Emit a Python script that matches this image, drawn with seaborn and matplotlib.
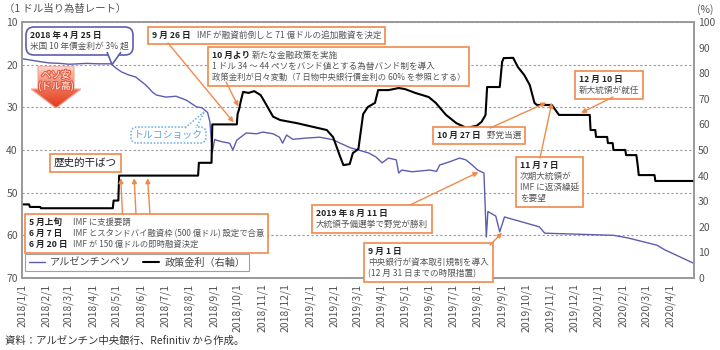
import matplotlib
matplotlib.use("Agg")
import matplotlib.pyplot as plt
import matplotlib.dates as mdates
import matplotlib.patheffects as pe
from matplotlib.offsetbox import TextArea, HPacker, VPacker, AnnotationBbox
from matplotlib.patches import Polygon
from matplotlib.transforms import IdentityTransform
from matplotlib.colors import LinearSegmentedColormap
import numpy as np
import pandas as pd
import seaborn as sns

# ---- data ----
# peso per dollar (left axis, inverted)
peso_dates = [
    "2018-01-01", "2018-01-11", "2018-01-24", "2018-02-05", "2018-02-18", "2018-03-02", "2018-03-24", "2018-04-08", "2018-04-24",
    "2018-04-30", "2018-05-07", "2018-05-16", "2018-05-25", "2018-06-07", "2018-06-15", "2018-06-20", "2018-07-02", "2018-07-15", "2018-07-28",
    "2018-08-10", "2018-08-17", "2018-08-24", "2018-08-27", "2018-08-29", "2018-08-30", "2018-09-02", "2018-09-04", "2018-09-12", "2018-09-21",
    "2018-09-25", "2018-09-30", "2018-10-12", "2018-10-25", "2018-11-02", "2018-11-15", "2018-11-23", "2018-11-27", "2018-12-02", "2018-12-10",
    "2018-12-27", "2019-01-13", "2019-01-30", "2019-02-08", "2019-02-21", "2019-03-03", "2019-03-16", "2019-03-25", "2019-04-02", "2019-04-10",
    "2019-04-20", "2019-04-23", "2019-04-27", "2019-05-10", "2019-06-01", "2019-06-10", "2019-06-14", "2019-06-26", "2019-07-09", "2019-07-17",
    "2019-07-25", "2019-08-01", "2019-08-09", "2019-08-12", "2019-08-14", "2019-08-24", "2019-08-29", "2019-09-04", "2019-09-27", "2019-10-18",
    "2019-10-25", "2019-11-30", "2020-01-20", "2020-02-07", "2020-03-15", "2020-03-25", "2020-04-08", "2020-04-30",
]
peso_vals = [
    18.6, 18.9, 19.3, 19.6, 19.7, 19.9, 19.7, 19.8, 19.8,
    20.8, 21.7, 22.4, 22.9, 24.8, 26.4, 27.1, 27.6, 27.4, 28.3,
    29.9, 30.1, 31.2, 33.4, 38.8, 40.5, 37.5, 37.7, 38.1, 38.4,
    40.0, 37.7, 36.0, 36.2, 35.8, 36.2, 37.0, 38.4, 36.5, 37.5,
    37.2, 37.0, 37.6, 38.4, 39.5, 40.0, 40.7, 41.6, 43.0, 41.9,
    42.3, 45.4, 44.7, 45.1, 44.7, 45.0, 43.5, 42.8, 41.9, 42.3,
    43.5, 44.7, 45.4, 60.4, 54.4, 55.5, 59.2, 55.7, 56.9, 58.0,
    59.5, 59.7, 60.0, 60.6, 62.3, 63.4, 64.6, 66.5,
]

# policy rate % (right axis)
rate_dates = [
    "2018-01-01", "2018-01-10", "2018-01-11", "2018-01-24", "2018-01-25", "2018-04-26", "2018-04-27", "2018-05-03", "2018-05-04",
    "2018-08-12", "2018-08-13", "2018-08-29", "2018-08-30", "2018-09-30", "2018-10-01", "2018-10-03", "2018-10-05", "2018-10-08",
    "2018-10-15", "2018-10-22", "2018-10-30", "2018-11-03", "2018-11-15", "2018-11-24", "2018-12-15", "2019-01-05", "2019-01-22",
    "2019-01-30", "2019-02-08", "2019-02-12", "2019-02-20", "2019-02-24", "2019-03-03", "2019-03-09", "2019-03-15", "2019-03-24",
    "2019-03-28", "2019-04-10", "2019-04-23", "2019-05-01", "2019-05-14", "2019-05-31", "2019-06-09", "2019-06-22", "2019-07-05",
    "2019-07-18", "2019-07-31", "2019-08-06", "2019-08-11", "2019-08-13", "2019-08-29", "2019-09-01", "2019-09-03", "2019-09-15",
    "2019-09-21", "2019-09-29", "2019-10-06", "2019-10-12", "2019-10-15", "2019-11-03", "2019-11-12", "2019-12-21", "2019-12-22",
    "2019-12-28", "2019-12-29", "2020-01-12", "2020-01-13", "2020-01-19", "2020-01-20", "2020-02-04", "2020-02-05", "2020-02-18",
    "2020-02-20", "2020-02-21", "2020-03-12", "2020-03-13", "2020-05-01",
]
rate_vals = [
    28.75, 28.75, 27.75, 27.75, 27.25, 27.25, 30.25, 30.25, 40.0,
    40.0, 45.0, 45.0, 60.0, 60.0, 64.0, 66.0, 69.0, 72.7,
    72.3, 73.0, 71.5, 69.5, 63.0, 61.7, 60.5, 59.0, 57.8,
    55.0, 47.3, 44.1, 44.5, 48.8, 50.4, 64.0, 66.8, 68.4,
    73.4, 73.4, 74.2, 73.8, 72.3, 70.7, 68.4, 63.7, 60.5,
    58.6, 59.5, 61.0, 63.7, 74.6, 74.6, 84.4, 85.9, 86.0,
    82.4, 79.3, 75.4, 68.4, 67.6, 67.6, 63.7, 63.7, 57.8,
    57.8, 55.1, 55.1, 52.7, 52.7, 50.0, 50.0, 48.0, 48.0,
    43.4, 40.2, 40.2, 37.9, 37.9,
]

left_ticks = list(range(10, 71, 10))
right_ticks = list(range(0, 101, 10))
month_ticks = pd.date_range("2018-01-01", "2020-04-01", freq="MS")

BLUE = "#5d5db0"
ORANGE = "#f08a4b"
GREY = "#555555"
FS = 6.2  # note text size

sns.set_theme(style="white")
plt.rcParams["font.family"] = ["Noto Sans CJK JP", "DejaVu Sans"]

W, H = 720, 350
fig = plt.figure(figsize=(7.2, 3.5), dpi=100)
ax = fig.add_axes([22 / W, 1 - 278 / H, 672 / W, 256 / H])
ax2 = ax.twinx()

peso = pd.DataFrame({"date": pd.to_datetime(peso_dates), "value": peso_vals})
rate = pd.DataFrame({"date": pd.to_datetime(rate_dates), "value": rate_vals})

sns.lineplot(data=peso, x="date", y="value", ax=ax, color=BLUE, lw=1.0,
             estimator=None, sort=False, legend=False)
sns.lineplot(data=rate, x="date", y="value", ax=ax2, color="black", lw=1.5,
             estimator=None, sort=False, legend=False)

ax.set_xlim(pd.Timestamp("2018-01-01"), pd.Timestamp("2020-05-01"))
ax.set_ylim(70, 10)
ax.set_yticks(left_ticks)
ax2.set_ylim(0, 100)
ax2.set_yticks(right_ticks)
ax.set_xticks(month_ticks)
ax.set_xticklabels([f"{d.year}/{d.month}/{d.day}" for d in month_ticks], rotation=90)
for a in (ax, ax2):
    a.set_xlabel("")
    a.set_ylabel("")
    a.tick_params(axis="both", length=0, labelsize=7.5, colors=GREY, pad=3)
    for s in a.spines.values():
        s.set_color("#999999")
        s.set_linewidth(1.2)
ax.tick_params(axis="x", pad=4)
ax.grid(axis="y", color="#999999", lw=0.8, ls=(0, (2, 2)))
ax.grid(axis="x", visible=False)


def fp(x, y):
    # pixel position measured from the top-left corner -> figure pixels
    return (x, H - y)


def txt(s, bold=False, color=None, size=FS):
    c = color or ("#222222" if bold else GREY)
    return TextArea(s, textprops=dict(fontsize=size, color=c,
                                      fontweight="bold" if bold else "normal"))


def row(*parts, sep=3):
    return HPacker(children=list(parts), align="baseline", pad=0, sep=sep)


def col(*rows):
    return VPacker(children=list(rows), align="left", pad=0, sep=1.5)


def put_box(content, x, y, ec=ORANGE, style="square,pad=0.4", ls="-"):
    ab = AnnotationBbox(content, fp(x, y), xycoords="figure pixels",
                        box_alignment=(0, 1), fontsize=7, frameon=True,
                        bboxprops=dict(boxstyle=style, ec=ec, lw=1.2, fc="white", ls=ls),
                        annotation_clip=False, zorder=5)
    ax2.add_artist(ab)


def arrow(x, y, date, val, axis):
    ax2.annotate("", xy=(mdates.date2num(pd.Timestamp(date)), val), xycoords=axis.transData,
                 xytext=fp(x, y), textcoords="figure pixels", annotation_clip=False,
                 arrowprops=dict(arrowstyle="-|>", color=ORANGE, lw=1.0,
                                 mutation_scale=7, shrinkA=0, shrinkB=0), zorder=6)


def tail(x1, x2, y, date, val, axis, ec, ls="-"):
    tip = axis.transData.transform((mdates.date2num(pd.Timestamp(date)), val))
    p = Polygon([fp(x1, y), tuple(tip), fp(x2, y)], closed=False, transform=IdentityTransform(),
                fc="white", ec=ec, lw=1.2, ls=ls, zorder=3)
    fig.add_artist(p)


# annotation boxes
put_box(col(txt("2018 年 4 月 25 日", True), txt("米国 10 年債金利が 3% 超")), 30, 31,
        ec=BLUE, style="round,pad=0.4,rounding_size=0.8")
tail(107, 121, 52, "2018-04-25", 20.0, ax, BLUE)

put_box(row(txt("9 月 26 日", True), txt(" IMF が融資前倒しと 71 億ドルの追加融資を決定")), 152, 31)
arrow(168, 43, "2018-09-26", 60.8, ax2)

put_box(col(row(txt("10 月より", True), txt("新たな金融政策を実施"), sep=1),
            txt("1 ドル 34 ～ 44 ペソをバンド値とする為替バンド制を導入"),
            txt("政策金利が日々変動（7 日物中央銀行債金利の 60% を参照とする）", size=6.0)), 212, 51)
arrow(226, 82, "2018-10-02", 67.0, ax2)

put_box(txt("トルコショック", color="#5ea3dc", size=7.1), 134, 130,
        ec="#7fb5e3", style="round,pad=0.3,rounding_size=0.6", ls=(0, (1, 1)))
tail(185, 196, 128, "2018-08-20", 31.0, ax, "#7fb5e3", ls=(0, (1, 1)))

put_box(txt("歴史的干ばつ", color="#222222", size=7.6), 54, 158)

put_box(HPacker(children=[col(txt("5 月上旬", True), txt("6 月 7 日", True), txt("6 月 20 日", True)),
                          col(txt("IMF に支援要請", size=6.0),
                              txt("IMF とスタンドバイ融資枠 (500 億ドル) 設定で合意", size=6.0),
                              txt("IMF が 150 億ドルの即時融資決定", size=6.0))],
                align="top", pad=0, sep=4), 29, 218)
for xs, d in [(122.5, "2018-05-06"), (136, "2018-05-23"), (150, "2018-06-09")]:
    arrow(xs, 214, d, 39.0, ax2)

put_box(col(txt("2019 年 8 月 11 日", True), txt("大統領予備選挙で野党が勝利")), 316, 209)
arrow(410, 205, "2019-08-02", 45.2, ax)

put_box(col(txt("9 月 1 日", True), txt("中央銀行が資本取引規制を導入"),
            txt("(12 月 31 日までの時限措置)")), 368, 247)
arrow(490, 245, "2019-09-01", 59.4, ax)

put_box(row(txt("10 月 27 日", True), txt(" 野党当選")), 437, 131)
arrow(490, 128, "2019-10-27", 68.5, ax2)

put_box(col(txt("11 月 7 日", True), txt("次期大統領が"), txt("IMF に返済繰延"), txt("を要望")), 520, 161)
arrow(540, 158, "2019-11-03", 68.5, ax2)

put_box(col(txt("12 月 10 日", True), txt("新大統領が就任")), 579, 75)
arrow(613, 97, "2019-12-10", 64.5, ax2)

# red "peso weaker" arrow with a vertical gradient
aax = fig.add_axes([31 / W, 1 - 108 / H, 50 / W, 42 / H])
shape = Polygon([(7, 0), (43, 0), (43, 23), (50, 23), (25, 42), (0, 23), (7, 23)],
                closed=True, fc="none", ec="#f3a493", lw=0.8)
aax.add_patch(shape)
cmap = LinearSegmentedColormap.from_list("redfade", ["#fcd9d2", "#f0765a", "#e2391d"])
im = aax.imshow(np.linspace(0, 1, 64).reshape(-1, 1), extent=(0, 50, 42, 0), cmap=cmap, aspect="auto")
im.set_clip_path(shape)
aax.set_xlim(0, 50)
aax.set_ylim(42, 0)
aax.axis("off")
glow = [pe.withStroke(linewidth=1.6, foreground="#e35a40")]
aax.text(25, 9, "ペソ安", ha="center", va="center", color="white", fontsize=7, path_effects=glow)
aax.text(25, 20, "(ドル高)", ha="center", va="center", color="white", fontsize=7, path_effects=glow)

# legend
handles = [ax.get_lines()[0], ax2.get_lines()[0]]
leg = fig.legend(handles, ["アルゼンチンペソ", "政策金利（右軸）"], loc="upper left",
                 bbox_to_anchor=(25 / W, 1 - 254 / H), ncol=2, frameon=True, fontsize=7.3,
                 handlelength=1.6, handletextpad=0.5, columnspacing=1.2, borderpad=0.35,
                 fancybox=False, edgecolor="#888888", borderaxespad=0)
leg.get_frame().set_linewidth(0.8)
for t in leg.get_texts():
    t.set_color("#444444")

fig.text(4 / W, 1 - 9 / H, "（1 ドル当り為替レート）", fontsize=7.5, color=GREY, va="center")
fig.text(697 / W, 1 - 10 / H, "(%)", fontsize=7.5, color=GREY, va="center")
fig.text(5 / W, 1 - 341 / H, "資料：アルゼンチン中央銀行、Refinitiv から作成。", fontsize=7.5,
         color="#333333", va="center")

fig.savefig("out.png", dpi=100)
